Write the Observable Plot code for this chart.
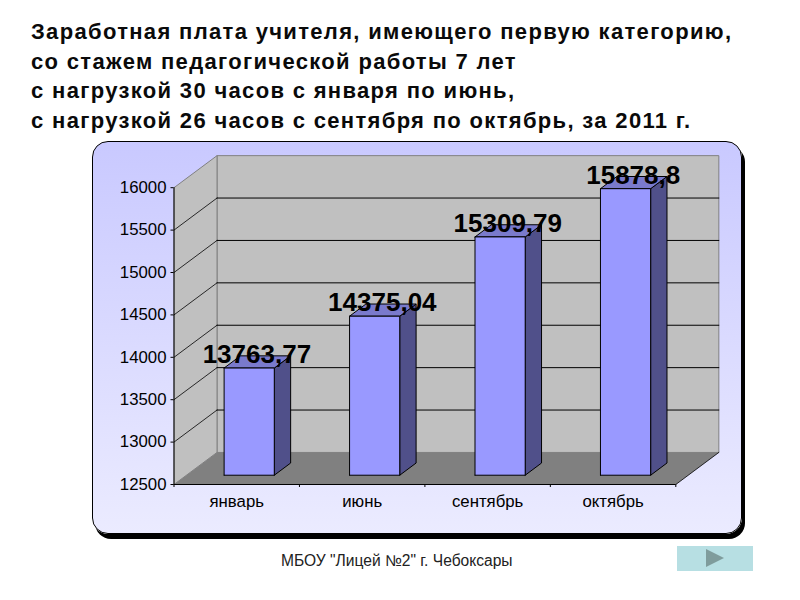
<!DOCTYPE html>
<html>
<head>
<meta charset="utf-8">
<script src="https://cdn.jsdelivr.net/npm/d3@7"></script>
<script src="https://cdn.jsdelivr.net/npm/@observablehq/plot@0.6"></script>
<style>
  html, body { margin: 0; padding: 0; background: #fff; width: 800px; height: 600px; overflow: hidden; font-family: "Liberation Sans", Arial, sans-serif; }
  #panel { position: absolute; left: 92px; top: 141px; width: 648px; height: 391px; border: 1.5px solid #000; border-radius: 16px;
           background: linear-gradient(180deg, #C9C9FF 0%, #EBEBFF 100%); box-shadow: 3px 5px 0 #000; }
  #chart { position: absolute; left: 0; top: 0; }
  #title { position: absolute; left: 31px; top: 17px; font-weight: bold; font-size: 22px; line-height: 29.7px; letter-spacing: 1.33px; color: #0a0a0a; white-space: nowrap; }
  #footer { position: absolute; left: 281px; top: 552px; font-size: 15.6px; line-height: 17px; color: #222; white-space: nowrap; }
  #button { position: absolute; left: 677px; top: 546px; width: 76px; height: 25px; background: #B7DFE3; }
  #arrow { position: absolute; left: 29px; top: 3px; width: 0; height: 0; border-left: 18px solid #7F9C9C; border-top: 9.5px solid transparent; border-bottom: 9.5px solid transparent; }
</style>
</head>
<body>
<div id="title">Заработная плата учителя, имеющего первую категорию,<br>со стажем педагогической работы 7 лет<br>с нагрузкой 30 часов с января по июнь,<br>с нагрузкой 26 часов с сентября по октябрь, за 2011 г.</div>
<div id="panel"></div>
<div id="chart"></div>
<div id="footer">МБОУ "Лицей №2" г. Чебоксары</div>
<div id="button"><div id="arrow"></div></div>
<script>
const categories = ["январь", "июнь", "сентябрь", "октябрь"];
const values = [13763.77, 14375.04, 15309.79, 15878.8];
const valueLabels = ["13763,77", "14375,04", "15309,79", "15878,8"];
const yTicks = [12500, 13000, 13500, 14000, 14500, 15000, 15500, 16000];
const gridValues = [13000, 13500, 14000, 14500, 15000, 15500];
const yMin = 12500, yMax = 16000;

// Oblique projection of the 3D chart box, in data units
const depthX = 0.343, depthY = 378;
const barFront = 0.29, barBack = 0.67, barHalf = 0.2;
const at = (x, v, d) => ({x: x + d * depthX, y: v + d * depthY});
const shape = (id, pts) => pts.map(p => ({...p, id}));
const xy = {x: "x", y: "y", z: "id", curve: "linear"};

const floor = shape("floor", [at(0, yMin, 0), at(4, yMin, 0), at(4, yMin, 1), at(0, yMin, 1), at(0, yMin, 0)]);
const backWall = shape("back", [at(0, yMin, 1), at(4, yMin, 1), at(4, yMax, 1), at(0, yMax, 1), at(0, yMin, 1)]);
const sideWall = shape("side", [at(0, yMin, 0), at(0, yMin, 1), at(0, yMax, 1), at(0, yMax, 0), at(0, yMin, 0)]);
const gridBack = gridValues.flatMap(v => shape("b" + v, [at(0, v, 1), at(4, v, 1)]));
const gridSide = gridValues.flatMap(v => shape("s" + v, [at(0, v, 0), at(0, v, 1)]));
const floorEdge = shape("edge", [at(4, yMin, 0), at(4, yMin, 1)]);

const barFaces = (make) => values.flatMap((v, i) => {
  const l = i + 0.5 - barHalf, r = i + 0.5 + barHalf;
  return shape("bar" + i, make(l, r, v));
});
const fronts = barFaces((l, r, v) => [at(l, yMin, barFront), at(r, yMin, barFront), at(r, v, barFront), at(l, v, barFront), at(l, yMin, barFront)]);
const sides = barFaces((l, r, v) => [at(r, yMin, barFront), at(r, yMin, barBack), at(r, v, barBack), at(r, v, barFront), at(r, yMin, barFront)]);
const tops = barFaces((l, r, v) => [at(l, v, barFront), at(r, v, barFront), at(r, v, barBack), at(l, v, barBack), at(l, v, barFront)]);
const labels = values.map((v, i) => ({...at(i + 0.5, v, (barFront + barBack) / 2), label: valueLabels[i], front: at(i + 0.5, v, barFront).y}));

const plot = Plot.plot({
  width: 800,
  height: 600,
  marginLeft: 173.5,
  marginRight: 124.7,
  marginTop: 187.2,
  marginBottom: 116,
  style: {background: "transparent", fontFamily: "'Liberation Sans', Arial, sans-serif", color: "#000", overflow: "visible"},
  x: {type: "linear", domain: [0, 4]},
  y: {type: "linear", domain: [yMin, yMax]},
  marks: [
    Plot.line(backWall, {...xy, fill: "#C0C0C0", stroke: "#808080", strokeWidth: 1}),
    Plot.line(sideWall, {...xy, fill: "#C0C0C0", stroke: "#808080", strokeWidth: 1}),
    Plot.line(floor, {...xy, fill: "#808080", stroke: "none"}),
    Plot.line(gridBack, {...xy, stroke: "#000", strokeWidth: 1}),
    Plot.line(gridSide, {...xy, stroke: "#000", strokeWidth: 0.8}),
    Plot.line(floorEdge, {...xy, stroke: "#000", strokeWidth: 0.8}),
    Plot.ruleX([0], {y1: yMin, y2: yMax, stroke: "#000", strokeWidth: 1}),
    Plot.ruleY([yMin], {x1: 0, x2: 4, stroke: "#000", strokeWidth: 1}),
    Plot.line(sides, {...xy, fill: "#50508A", stroke: "#000", strokeWidth: 1}),
    Plot.line(tops, {...xy, fill: "#7A7ACC", stroke: "#000", strokeWidth: 1}),
    Plot.line(fronts, {...xy, fill: "#9999FF", stroke: "#000", strokeWidth: 1}),
    Plot.axisY({ticks: yTicks, tickFormat: d => String(d), tickSize: 3, tickPadding: 4.5, label: null, fontSize: 16.8, anchor: "left"}),
    Plot.axisX({ticks: [0, 1, 2, 3, 4], tickFormat: () => "", tickSize: 3, label: null, anchor: "bottom"}),
    Plot.axisX({ticks: [0.5, 1.5, 2.5, 3.5], tickFormat: d => categories[d - 0.5], tickSize: 0, tickPadding: 11, label: null, fontSize: 16.8, anchor: "bottom"}),
    Plot.text(labels, {x: "x", y: "front", text: "label", fontSize: 26, fontWeight: "bold", fill: "#000", lineAnchor: "bottom", dx: -0.5, dy: -5})
  ]
});
document.getElementById("chart").appendChild(plot);
</script>
</body>
</html>
